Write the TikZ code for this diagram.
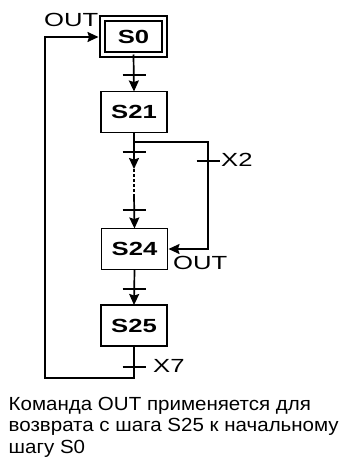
\documentclass[tikz,border=0pt]{standalone}
\usepackage{fontspec}
\setmainfont{Liberation Sans}
\usetikzlibrary{arrows.meta}
\newcommand{\wide}[1]{\scalebox{1.35}[1]{#1}}
\newcommand{\capw}[1]{\scalebox{1.08}[1]{#1}}
\begin{document}
\begin{tikzpicture}[x=1pt,y=-1pt,
  stepbox/.style={draw,line width=1.8pt,minimum width=66pt,minimum height=41pt,inner sep=0pt,outer sep=0pt,
    font=\fontsize{19}{19}\selectfont\bfseries},
  conn/.style={line width=1.7pt},
  arr/.style={conn,-{Stealth[length=11pt,width=10pt,inset=1.5pt]}},
  bar/.style={line width=1.9pt},
  lbl/.style={inner sep=0pt,font=\fontsize{19}{19}\selectfont}]
\useasboundingbox (0,0) rectangle (355,463);
% steps
\node[draw,line width=1.5pt,double,double distance=3.5pt,minimum width=62pt,minimum height=36pt,inner sep=0pt,outer sep=0pt,
  font=\fontsize{19}{19}\selectfont\bfseries] (s0) at (133.5,36.5) {\wide{S0}};
\node[stepbox] (s21) at (134,112) {\wide{S21}};
\node[stepbox] (s24) at (134.5,249) {\wide{S24}};
\node[stepbox] (s25) at (134,325.5) {\wide{S25}};
% coordinates
\coordinate (t1) at (134,75);
\coordinate (t2) at (134,152);
\coordinate (d1) at (134,169);
\coordinate (d2) at (134,195);
\coordinate (t3) at (134,210);
\coordinate (br) at (134,142);
\coordinate (bc) at (208,142);
\coordinate (t4) at (208,161);
\coordinate (t5) at (134,289);
\coordinate (t6) at (134,367);
\coordinate (lb) at (134,378);
\coordinate (lc) at (45,378);
\coordinate (ld) at (45,37);
% connectors
\draw[arr] (s0.south) -- (s21.north);
\draw[arr] (s21.south) -- (d1);
\draw[conn,dash pattern=on 2.5pt off 2.5pt] (d1) -- (d2);
\draw[arr] (d2) -- (s24.north);
\draw[arr] (br) -- (bc) -- (bc |- s24.east) -- ([xshift=1pt]s24.east);
\draw[arr] (s24.south) -- (s25.north);
\draw[arr,shorten >=4pt] (s25.south) -- (lb) -- (lc) -- (ld) -- (s0.west |- ld);
% transitions
\foreach \t in {t1,t2,t3,t4,t5,t6}
  \draw[bar] (\t) +(-11.5,0) -- +(11.5,0);
% labels
\node[lbl,anchor=base west] (o1) at (44,27) {\wide{OUT}};
\node[lbl,anchor=base west] (o2) at (173,269) {\wide{OUT}};
\node[lbl,anchor=base west] (x2) at (221,166) {\wide{X2}};
\node[lbl,anchor=base west] (x7) at (153,372) {\wide{X7}};
% caption
\node[anchor=base west,inner sep=0pt,font=\fontsize{19}{21.5}\selectfont,align=left] (cap) at (8.5,453)
  {\capw{Команда OUT применяется для}\\\capw{возврата с шага S25 к начальному}\\\capw{шагу S0}};
\end{tikzpicture}
\end{document}
